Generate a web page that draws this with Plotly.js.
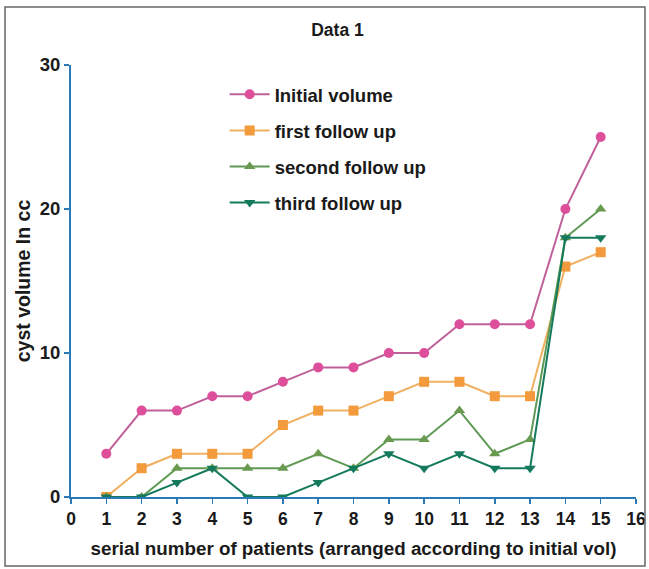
<!DOCTYPE html>
<html>
<head>
<meta charset="utf-8">
<script src="https://cdn.plot.ly/plotly-3.0.1.min.js"></script>
<style>html,body{margin:0;padding:0;background:#fff;}</style>
</head>
<body>
<div id="chart" style="width:649px;height:569px;"></div>
<script>
var patients = [1,2,3,4,5,6,7,8,9,10,11,12,13,14,15];
var initialVolume = [3,6,6,7,7,8,9,9,10,10,12,12,12,20,25];
var firstFollowUp = [0,2,3,3,3,5,6,6,7,8,8,7,7,16,17];
var secondFollowUp = [0,0,2,2,2,2,3,2,4,4,6,3,4,18,20];
var thirdFollowUp = [0,0,1,2,0,0,1,2,3,2,3,2,2,18,18];
var seriesNames = ['Initial volume','first follow up','second follow up','third follow up'];
var xTicks = [0,1,2,3,4,5,6,7,8,9,10,11,12,13,14,15,16];
var yTicks = [0,10,20,30];

var F = 'Liberation Sans, Arial, sans-serif';
function bf(s){ return {size:s, family:F, color:'#1a1a1a', weight:'bold'}; }
function tr(y, name, lineColor, markerColor, symbol, g){
  return {x: patients, y: y, name: name, type:'scatter', mode:'lines+markers',
    legendgroup: g,
    line:{color:lineColor, width:2},
    marker:{color:markerColor, symbol:symbol, size:10}};
}
var data = [
  tr(initialVolume, seriesNames[0], '#c0609a', '#dd4f9a', 'circle', 'a'),
  tr(firstFollowUp, seriesNames[1], '#f0b060', '#f29a3c', 'square', 'b'),
  tr(secondFollowUp, seriesNames[2], '#5f9a55', '#6a9a50', 'triangle-up', 'c'),
  tr(thirdFollowUp, seriesNames[3], '#157a5c', '#157a5c', 'triangle-down', 'd')
];
var layout = {
  width:649, height:569,
  margin:{l:71, r:13, t:65, b:72},
  paper_bgcolor:'#fff', plot_bgcolor:'#fff',
  font:{family:F, color:'#1a1a1a'},
  title:{text:'Data 1', font:bf(17.5), x:0.52, xanchor:'center', y:0.947, yanchor:'middle'},
  showlegend:true,
  legend:{x:0.272, y:0.975, xanchor:'left', yanchor:'top', font:bf(18.5),
    bgcolor:'rgba(0,0,0,0)', traceorder:'grouped', tracegroupgap:9, itemwidth:40},
  xaxis:{range:[0,16], tickvals:xTicks, showgrid:false, zeroline:false,
    showline:true, linecolor:'#2a7ab8', linewidth:2, ticks:'outside', ticklen:5, tickcolor:'#2a7ab8', tickwidth:1.5,
    tickfont:bf(17.5),
    title:{text:'serial number of patients (arranged according to initial vol)', font:bf(18.8), standoff:14}},
  yaxis:{range:[0,30], tickvals:yTicks, showgrid:false, zeroline:false,
    showline:true, linecolor:'#2a7ab8', linewidth:2, ticks:'outside', ticklen:5, tickcolor:'#2a7ab8', tickwidth:1.5,
    tickfont:bf(18.5),
    title:{text:'cyst volume In cc', font:bf(19.5), standoff:4}},
  shapes:[{type:'rect', xref:'paper', yref:'paper', x0:-0.1168, x1:1.0159, y0:-0.1597, y1:1.134,
    line:{color:'#666', width:1.5}, fillcolor:'rgba(0,0,0,0)'}]
};
Plotly.newPlot('chart', data, layout, {displayModeBar:false, staticPlot:true});
</script>
</body>
</html>
